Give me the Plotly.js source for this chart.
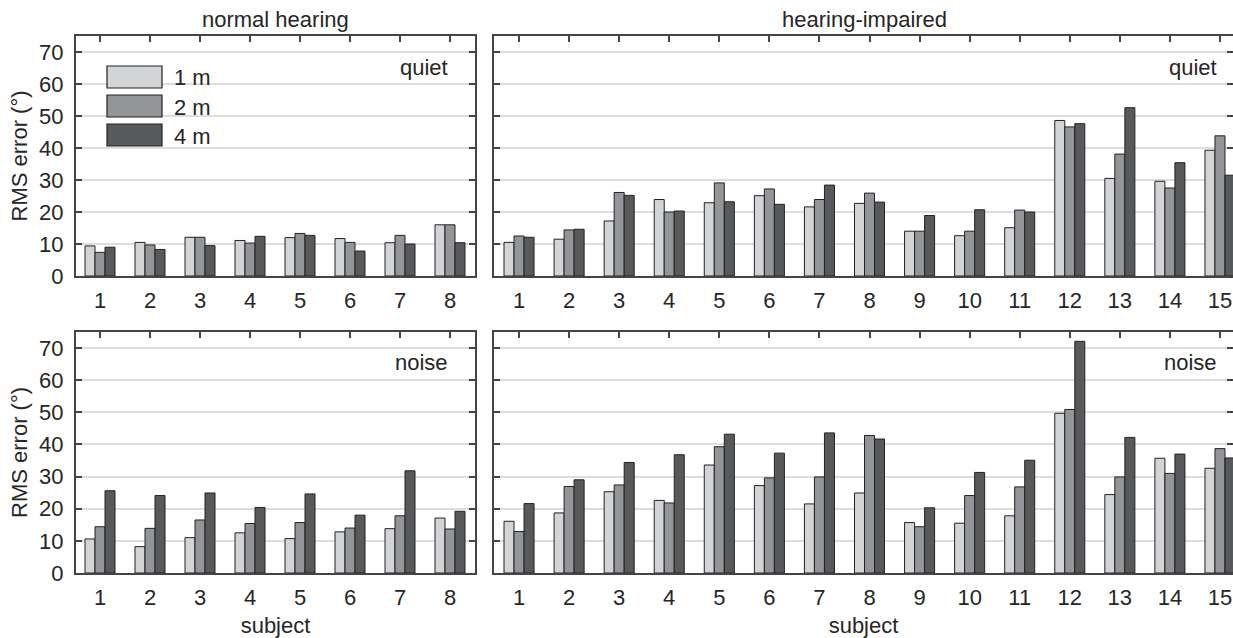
<!DOCTYPE html>
<html>
<head>
<meta charset="utf-8">
<script src="https://cdn.plot.ly/plotly-3.0.1.min.js"></script>
<style>html,body{margin:0;padding:0;background:#fff}#chart{width:1233px;height:638px}</style>
</head>
<body>
<div id="chart"></div>
<script>
// ---- data ----
const distances = ["1 m", "2 m", "4 m"];
const subjectsNH = [1, 2, 3, 4, 5, 6, 7, 8];
const subjectsHI = [1, 2, 3, 4, 5, 6, 7, 8, 9, 10, 11, 12, 13, 14, 15];

// normal hearing, quiet
const nhQuiet1m = [9.4, 10.5, 12.1, 11.1, 12.0, 11.7, 10.4, 16.0];
const nhQuiet2m = [7.4, 9.7, 12.1, 10.3, 13.3, 10.5, 12.7, 16.0];
const nhQuiet4m = [9.0, 8.3, 9.5, 12.4, 12.7, 7.8, 10.0, 10.4];

// hearing-impaired, quiet
const hiQuiet1m = [10.5, 11.5, 17.2, 23.9, 22.9, 25.1, 21.6, 22.7, 14.0, 12.6, 15.1, 48.6, 30.5, 29.6, 39.3];
const hiQuiet2m = [12.5, 14.4, 26.1, 20.0, 29.1, 27.2, 23.9, 25.9, 14.0, 14.0, 20.6, 46.6, 38.1, 27.5, 43.8];
const hiQuiet4m = [12.1, 14.6, 25.2, 20.3, 23.2, 22.4, 28.4, 23.1, 18.9, 20.7, 20.0, 47.6, 52.6, 35.4, 31.5];

// normal hearing, noise
const nhNoise1m = [10.6, 8.2, 11.0, 12.5, 10.7, 12.8, 13.8, 17.1];
const nhNoise2m = [14.4, 13.9, 16.5, 15.4, 15.7, 14.0, 17.8, 13.7];
const nhNoise4m = [25.6, 24.1, 24.9, 20.4, 24.6, 18.0, 31.8, 19.2];

// hearing-impaired, noise
const hiNoise1m = [16.1, 18.7, 25.3, 22.6, 33.6, 27.2, 21.5, 24.9, 15.7, 15.5, 17.8, 49.7, 24.4, 35.7, 32.6];
const hiNoise2m = [12.9, 26.9, 27.4, 21.8, 39.3, 29.6, 29.9, 42.8, 14.4, 24.1, 26.8, 50.9, 29.9, 31.0, 38.7];
const hiNoise4m = [21.6, 29.0, 34.4, 36.8, 43.2, 37.3, 43.6, 41.7, 20.3, 31.3, 35.1, 72.1, 42.2, 37.0, 35.8];

const yTicks = [0, 10, 20, 30, 40, 50, 60, 70];

// ---- styling ----
const W = 1233, H = 638;
const px = v => v / W;
const py = v => 1 - v / H;
const barColors = ["#d3d4d6", "#939598", "#58595b"];
const axisColor = "#444444";
const textColor = "#262626";
const FONT = "Liberation Sans, Arial, Helvetica, sans-serif";
const FS = 22;

const panels = [
  {x: subjectsNH, vals: [nhQuiet1m, nhQuiet2m, nhQuiet4m], xa: "x", ya: "y"},
  {x: subjectsHI, vals: [hiQuiet1m, hiQuiet2m, hiQuiet4m], xa: "x2", ya: "y2"},
  {x: subjectsNH, vals: [nhNoise1m, nhNoise2m, nhNoise4m], xa: "x3", ya: "y3"},
  {x: subjectsHI, vals: [hiNoise1m, hiNoise2m, hiNoise4m], xa: "x4", ya: "y4"}
];

const traces = [];
panels.forEach(p => {
  p.vals.forEach((v, i) => {
    traces.push({
      type: "bar", x: p.x, y: v, name: distances[i],
      xaxis: p.xa, yaxis: p.ya, showlegend: false,
      marker: {color: barColors[i], line: {color: "#222222", width: 1}},
      hovertemplate: "subject %{x}<br>" + distances[i] + ": %{y}°<extra></extra>"
    });
  });
});

function xAxis(domain, range, ticks, anchor, showTitle) {
  return {
    domain: domain, range: range, anchor: anchor,
    tickmode: "array", tickvals: ticks, ticktext: ticks.map(String),
    ticks: "inside", ticklen: 6, tickwidth: 1.5, tickcolor: axisColor,
    showline: true, linecolor: axisColor, linewidth: 2, mirror: "ticks",
    showgrid: false, zeroline: false, layer: "below traces",
    tickfont: {family: FONT, size: FS, color: textColor},
    ticklabelstandoff: 4,
    title: showTitle ? {text: "subject", font: {family: FONT, size: FS, color: textColor}, standoff: 8} : {text: ""},
    fixedrange: true
  };
}
function yAxis(domain, anchor, showLabels) {
  return {
    domain: domain, range: [0, 75], anchor: anchor,
    tickmode: "array", tickvals: yTicks, ticktext: yTicks.map(String),
    ticks: "inside", ticklen: 6, tickwidth: 1.5, tickcolor: axisColor,
    showline: true, linecolor: axisColor, linewidth: 2, mirror: "ticks",
    showgrid: true, gridcolor: "#dddddd", gridwidth: 1.5, zeroline: false,
    layer: "below traces",
    showticklabels: showLabels,
    tickfont: {family: FONT, size: FS, color: textColor},
    ticklabelstandoff: 6,
    title: showLabels ? {text: "RMS error (°)", font: {family: FONT, size: FS, color: textColor}, standoff: 5} : {text: ""},
    fixedrange: true
  };
}

const dxL = [px(76), px(475)];
const dxR = [px(494), 1];
const dyT = [py(276), py(36)];
const dyB = [py(573), py(332)];

const layout = {
  width: W, height: H,
  margin: {l: 0, r: 0, t: 0, b: 0},
  paper_bgcolor: "#ffffff", plot_bgcolor: "#ffffff",
  barmode: "group", bargap: 0.4, bargroupgap: 0,
  showlegend: false,
  font: {family: FONT, size: FS, color: textColor},
  xaxis: xAxis(dxL, [0.52, 8.5], subjectsNH, "y", false),
  yaxis: yAxis(dyT, "x", true),
  xaxis2: xAxis(dxR, [0.5, 15.26], subjectsHI, "y2", false),
  yaxis2: yAxis(dyT, "x2", false),
  xaxis3: xAxis(dxL, [0.52, 8.5], subjectsNH, "y3", true),
  yaxis3: yAxis(dyB, "x3", true),
  xaxis4: xAxis(dxR, [0.5, 15.26], subjectsHI, "y4", true),
  yaxis4: yAxis(dyB, "x4", false),
  annotations: [],
  shapes: []
};

const ann = (text, x, y, xanchor) => ({
  text: text, x: x, y: y, xref: "paper", yref: "paper",
  xanchor: xanchor || "center", yanchor: "middle", showarrow: false,
  font: {family: FONT, size: FS, color: textColor}
});
layout.annotations.push(ann("normal hearing", px(275), py(20)));
layout.annotations.push(ann("hearing-impaired", px(864), py(20)));
layout.annotations.push(ann("quiet", px(450), py(67), "right"));
layout.annotations.push(ann("quiet", px(1219), py(67), "right"));
layout.annotations.push(ann("noise", px(450), py(362), "right"));
layout.annotations.push(ann("noise", px(1219), py(362), "right"));

// legend (custom, matching large swatches)
const legendRows = [[66, 88], [95, 117], [124, 146]];
distances.forEach((d, i) => {
  layout.shapes.push({
    type: "rect", xref: "paper", yref: "paper",
    x0: px(107), x1: px(162), y0: py(legendRows[i][1]), y1: py(legendRows[i][0]),
    fillcolor: barColors[i], line: {color: "#222222", width: 1.2}
  });
  layout.annotations.push(ann(d, px(172), py((legendRows[i][0] + legendRows[i][1]) / 2 + 1), "left"));
});

Plotly.newPlot("chart", traces, layout, {displayModeBar: false, staticPlot: false});
</script>
</body>
</html>
